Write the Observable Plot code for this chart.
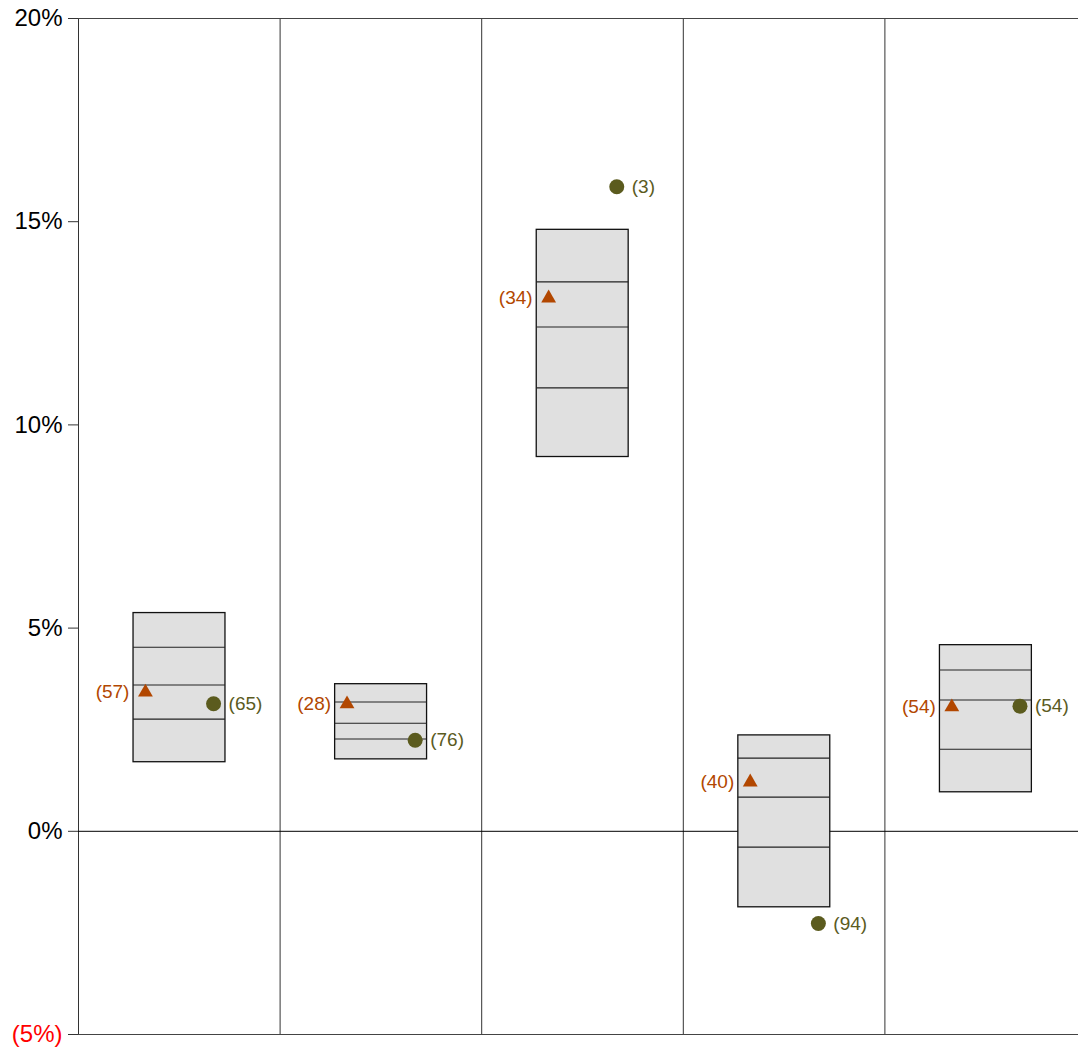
<!DOCTYPE html>
<html>
<head>
<meta charset="utf-8">
<script src="https://cdn.jsdelivr.net/npm/d3@7"></script>
<script src="https://cdn.jsdelivr.net/npm/@observablehq/plot@0.6"></script>
<style>
  html, body { margin: 0; padding: 0; background: #fff; overflow: hidden; }
  #chart svg { display: block; max-width: none !important; }
</style>
</head>
<body>
<div id="chart"></div>
<script>
// ---- data ----
const groups     = [0, 1, 2, 3, 4];
const boxTop     = [5.37, 3.62, 14.80, 2.36, 4.58];
const q75        = [4.53, 3.18, 13.52, 1.80, 3.97];
const median     = [3.60, 2.66, 12.41, 0.84, 3.23];
const q25        = [2.76, 2.27, 10.91, -0.39, 2.02];
const boxBottom  = [1.70, 1.77, 9.21, -1.87, 0.96];
const triValue   = [3.42, 3.13, 13.12, 1.21, 3.06];
const triRank    = [57, 28, 34, 40, 54];
const dotValue   = [3.14, 2.24, 15.86, -2.27, 3.08];
const dotRank    = [65, 76, 3, 94, 54];
const yTicks     = [-5, 0, 5, 10, 15, 20];

// ---- layout helpers ----
const BOX_L = 0.273, BOX_R = 0.729, TRI_X = 0.332, DOT_X = 0.67;
const triColor = "#b24700";
const dotColor = "#5b5b1e";
const font = "Liberation Sans, Arial, Helvetica, sans-serif";

const boxes = groups.map((g, i) => ({g, top: boxTop[i], bottom: boxBottom[i]}));
const lines = groups.flatMap((g, i) => [q75[i], median[i], q25[i]].map(v => ({g, v})));
const tris = groups.map((g, i) => ({g, v: triValue[i], label: `(${triRank[i]})`}));
const dots = groups.map((g, i) => ({g, v: dotValue[i], label: `(${dotRank[i]})`}));

const fmt = d => d < 0 ? `(${-d}%)` : `${d}%`;

const chart = Plot.plot({
  width: 1086,
  height: 1051,
  marginLeft: 78,
  marginRight: 0,
  marginTop: 18,
  marginBottom: 17,
  style: {fontFamily: font, background: "#fff", maxWidth: "none"},
  x: {domain: [0, 5], axis: null},
  y: {domain: [-5, 20], axis: null},
  marks: [
    Plot.ruleX(groups, {x: d => d, y1: -5, y2: 20, stroke: "#333", strokeWidth: 1}),
    Plot.ruleY([20, -5], {x1: 0, x2: 5, stroke: "#444", strokeWidth: 1}),
    Plot.ruleY([0], {x1: 0, x2: 5, stroke: "#000", strokeWidth: 1}),
    Plot.rect(boxes, {x1: d => d.g + BOX_L, x2: d => d.g + BOX_R, y1: "bottom", y2: "top",
      fill: "#e0e0e0", stroke: "#111", strokeWidth: 1.3}),
    Plot.ruleY(lines, {y: "v", x1: d => d.g + BOX_L, x2: d => d.g + BOX_R, stroke: "#222", strokeWidth: 1.1}),
    Plot.dot(tris, {x: d => d.g + TRI_X, y: "v", symbol: "triangle", r: 5.5, fill: triColor, stroke: "none"}),
    Plot.text(tris, {x: d => d.g + TRI_X, y: "v", text: "label", dx: -16, textAnchor: "end",
      fill: triColor, fontSize: 19}),
    Plot.dot(dots, {x: d => d.g + DOT_X, y: "v", r: 7.5, fill: dotColor, stroke: "none"}),
    Plot.text(dots, {x: d => d.g + DOT_X, y: "v", text: "label", dx: 15, textAnchor: "start",
      fill: dotColor, fontSize: 19}),
    Plot.axisY(yTicks.filter(d => d >= 0), {tickSize: 10, tickPadding: 6, tickFormat: fmt,
      fontSize: 24, fill: "#000", stroke: "#333"}),
    Plot.axisY(yTicks.filter(d => d < 0), {tickSize: 10, tickPadding: 6, tickFormat: fmt,
      fontSize: 24, fill: "#ff0000", stroke: "#333"})
  ]
});
document.getElementById("chart").appendChild(chart);
</script>
</body>
</html>
